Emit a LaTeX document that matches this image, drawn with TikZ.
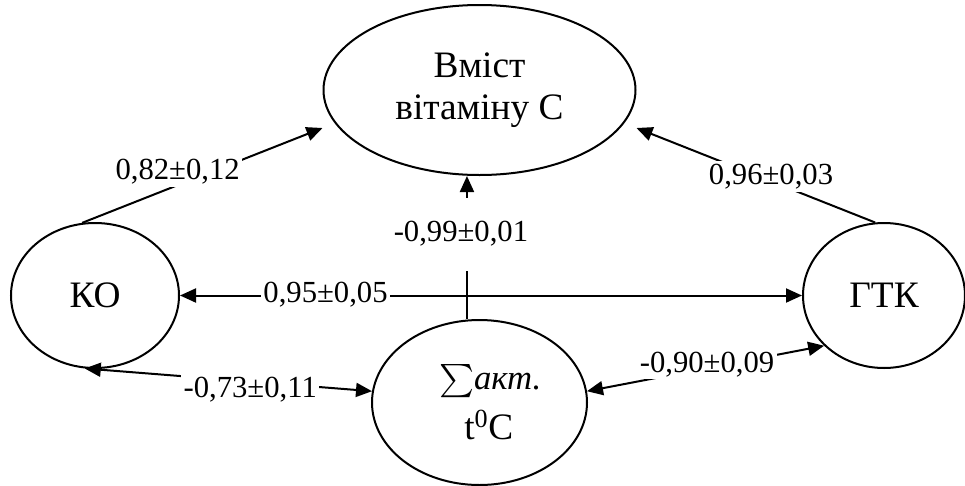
\documentclass[tikz,border=0pt]{standalone}
\usepackage{exscale}
\usepackage{fontspec}
\setmainfont{Liberation Serif}
\usetikzlibrary{arrows.meta,shapes.geometric}

\begin{document}
\begin{tikzpicture}[x=0.75pt, y=-0.75pt, line width=1.5pt,
    >={Triangle[length=12pt,width=10.5pt]},
    oval/.style={draw, ellipse, inner sep=0pt, align=center, font=\fontsize{28}{31}\selectfont},
    coef/.style={fill=white, inner sep=2pt, font=\fontsize{23}{26}\selectfont}]
  \useasboundingbox (0,0) rectangle (965,486);

  \node[oval, minimum width=234pt, minimum height=127.5pt] (vit) at (479.5,90) {Вміст\\вітаміну С};
  \node[oval, minimum width=126pt, minimum height=108.75pt] (ko) at (95,295.5) {КО};
  \node[oval, minimum width=121.5pt, minimum height=108.75pt] (gtk) at (884,295.5) {ГТК};
  \node[oval, minimum width=161.25pt, minimum height=123.75pt, font=\fontsize{28}{37.5}\selectfont] (sum) at (479.5,402.5)
    {\hspace*{16pt}{\fontsize{38}{38}\selectfont$\sum$}{\fontsize{26}{30}\selectfont\itshape акт.}\\
     \hspace*{14pt}t\textsuperscript{0}C};

  \draw[->] (ko.100) -- node[coef, pos=0.397, yshift=10pt] (c1) {0,82±0,12} ([yshift=-28.5pt]vit.west);
  \draw[->] (gtk.97) -- node[coef, pos=0.436, yshift=3.5pt] (c2) {0,96±0,03} ([yshift=-28.5pt]vit.east);
  \draw[->] ([xshift=-9.4pt]sum.north) -- node[coef, pos=0.594, xshift=-4.5pt, inner ysep=18pt] (c3) {-0,99±0,01} ([xshift=-9.4pt]vit.south);
  \draw[<->] (ko.east) -- node[coef, pos=0.234, yshift=1pt] (c4) {0,95±0,05} (gtk.west);
  \draw[<->] (ko.262) -- node[coef, pos=0.576, yshift=-6pt] (c5) {-0,73±0,11} (sum.174);
  \draw[<->] (sum.6) -- node[coef, pos=0.506, yshift=3pt] (c6) {-0,90±0,09} (gtk.220);
\end{tikzpicture}
\end{document}
